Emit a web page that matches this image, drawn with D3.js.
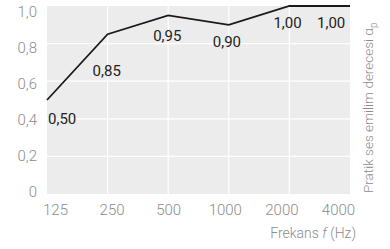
<!DOCTYPE html>
<html>
<head>
<meta charset="utf-8">
<script src="https://cdn.jsdelivr.net/npm/d3@7"></script>
<style>
  body { margin: 0; background: #fff; }
  text { font-family: "Roboto", "Liberation Sans", sans-serif; font-weight: 300; }
</style>
</head>
<body>
<div id="chart"></div>
<script>
// Data
const frequencies = ["125", "250", "500", "1000", "2000", "4000"];
const absorption = [0.50, 0.85, 0.95, 0.90, 1.00, 1.00];
const valueLabels = ["0,50", "0,85", "0,95", "0,90", "1,00", "1,00"];
const yTicks = [0, 0.2, 0.4, 0.6, 0.8, 1.0];

const W = 390, H = 249;
const margin = { top: 6, right: 40, bottom: 55, left: 47 };
const width = W - margin.left - margin.right;
const height = H - margin.top - margin.bottom;

const svg = d3.select("#chart")
    .append("svg")
    .attr("width", W)
    .attr("height", H);

const g = svg.append("g")
    .attr("transform", `translate(${margin.left},${margin.top})`);

// Scales
const x = d3.scalePoint()
    .domain(frequencies)
    .range([0, width]);

const y = d3.scaleLinear()
    .domain([0, 1])
    .range([height, 0]);

// tick labels in the original sit a bit inside the plot ends
const xLab = d3.scalePoint()
    .domain(frequencies)
    .range([8, 291]);

const yLab = d3.scaleLinear()
    .domain([0, 1])
    .range([186, 6]);

// Background
g.append("rect")
    .attr("width", width)
    .attr("height", height)
    .style("fill", "#ececec");

// Grid lines
g.selectAll(".hgrid")
    .data(yTicks.slice(1, -1))
    .enter()
    .append("line")
    .attr("x1", 0)
    .attr("x2", width)
    .attr("y1", d => y(d))
    .attr("y2", d => y(d))
    .style("stroke", "#fff")
    .style("stroke-width", 1.2);

g.selectAll(".vgrid")
    .data(frequencies.slice(1, -1))
    .enter()
    .append("line")
    .attr("x1", d => x(d))
    .attr("x2", d => x(d))
    .attr("y1", 0)
    .attr("y2", height)
    .style("stroke", "#fff")
    .style("stroke-width", 1.2);

// Axes (labels only)
const yAxis = g.append("g")
    .call(d3.axisLeft(yLab).tickValues(yTicks).tickSize(0).tickPadding(10)
        .tickFormat(d => d === 0 ? "0" : d3.format(".1f")(d).replace(".", ",")));
yAxis.select(".domain").remove();
yAxis.selectAll("text")
    .style("font-size", "15px")
    .style("fill", "#8c8c8c");

const xAxis = g.append("g")
    .attr("transform", `translate(0,${height})`)
    .call(d3.axisBottom(xLab).tickSize(0).tickPadding(10));
xAxis.select(".domain").remove();
xAxis.selectAll("text")
    .style("font-size", "15px")
    .style("fill", "#8c8c8c");

// Line
const line = d3.line()
    .x((d, i) => x(frequencies[i]))
    .y(d => y(d));

g.append("path")
    .datum(absorption)
    .attr("d", line)
    .style("fill", "none")
    .style("stroke", "#1a1a1a")
    .style("stroke-width", 1.8);

// Value labels (left edge / baseline offsets from the point)
const labelOffsets = [[1, 24], [-15, 42], [-15, 26], [-16, 22], [-16, 22], [-33, 22]];
g.selectAll(".val")
    .data(absorption)
    .enter()
    .append("text")
    .attr("x", (d, i) => x(frequencies[i]) + labelOffsets[i][0])
    .attr("y", (d, i) => y(d) + labelOffsets[i][1])
    .style("font-size", "15px")
    .style("font-weight", 400)
    .style("fill", "#222")
    .text((d, i) => valueLabels[i]);

// X axis title
const xt = svg.append("text")
    .attr("x", 356)
    .attr("y", 238)
    .style("text-anchor", "end")
    .style("font-size", "14px")
    .style("fill", "#8c8c8c");
xt.append("tspan").text("Frekans ");
xt.append("tspan").style("font-style", "italic").text("f");
xt.append("tspan").text(" (Hz)");

// Y axis title
const yt = svg.append("text")
    .attr("transform", "translate(373,193) rotate(-90)")
    .style("text-anchor", "start")
    .style("font-size", "13.5px")
    .style("fill", "#8c8c8c");
yt.append("tspan").text("Pratik ses emilim derecesi α");
yt.append("tspan").attr("dy", 4).style("font-size", "10px").text("p");
</script>
</body>
</html>
